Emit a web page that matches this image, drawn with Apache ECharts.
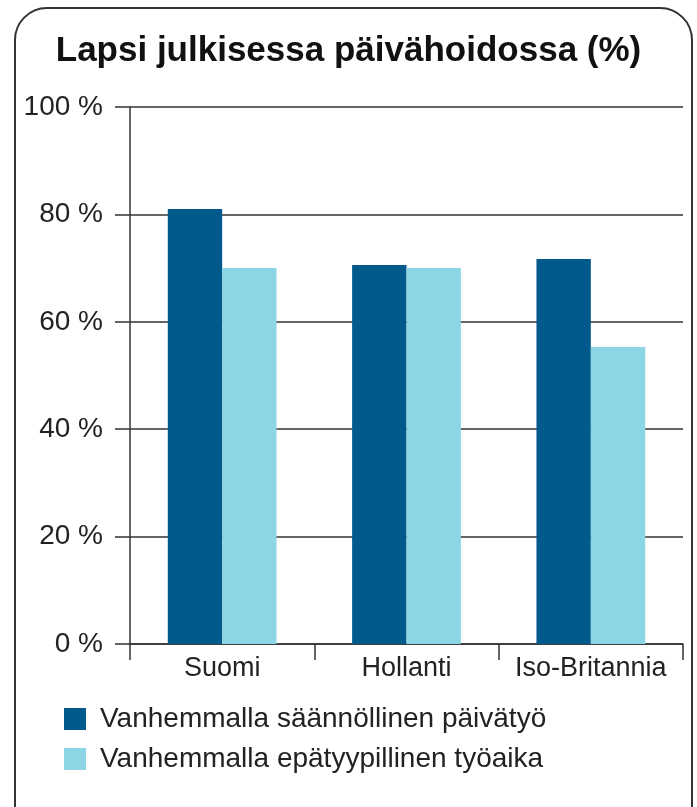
<!DOCTYPE html>
<html>
<head>
<meta charset="utf-8">
<script src="https://cdn.jsdelivr.net/npm/echarts@6/dist/echarts.min.js"></script>
<style>
  html, body { margin: 0; padding: 0; background: #fff; }
  #chart { width: 697px; height: 807px; }
</style>
</head>
<body>
<div id="chart"></div>
<script>
var chart = echarts.init(document.getElementById('chart'));

// data
var countries = ['Suomi', 'Hollanti', 'Iso-Britannia'];
var regularWork = [81, 70.6, 71.7];   // Vanhemmalla säännöllinen päivätyö
var irregularWork = [70, 70, 55.3];   // Vanhemmalla epätyypillinen työaika
var yTicks = [0, 20, 40, 60, 80, 100];

var darkBlue = '#02598b';
var lightBlue = '#8bd5e4';
var lineColor = '#333';
var font = '"Liberation Sans", Arial, sans-serif';

option = {
    animation: false,
    backgroundColor: '#fff',
    title: {
        text: 'Lapsi julkisessa päivähoidossa (%)',
        left: 'center',
        top: 29,
        textStyle: {
            fontFamily: font,
            fontSize: 35,
            fontWeight: 'bold',
            color: '#111'
        }
    },
    legend: {
        orient: 'vertical',
        left: 59,
        top: 700,
        itemWidth: 22,
        itemHeight: 22,
        itemGap: 12,
        icon: 'rect',
        selectedMode: false,
        textStyle: {
            fontFamily: font,
            fontSize: 28,
            color: '#222',
            padding: [0, 0, 0, 9]
        },
        data: ['Vanhemmalla säännöllinen päivätyö', 'Vanhemmalla epätyypillinen työaika']
    },
    grid: {
        left: 130,
        right: 14,
        top: 107,
        bottom: 163
    },
    xAxis: {
        type: 'category',
        data: countries,
        axisLine: {
            lineStyle: { color: lineColor, width: 1.5 }
        },
        axisTick: {
            show: true,
            interval: 0,
            length: 16,
            lineStyle: { color: lineColor, width: 1.5 }
        },
        axisLabel: {
            interval: 0,
            hideOverlap: false,
            margin: 11,
            fontFamily: font,
            fontSize: 27,
            color: '#222'
        }
    },
    yAxis: {
        type: 'value',
        min: yTicks[0],
        max: yTicks[yTicks.length - 1],
        interval: 20,
        axisLine: {
            show: true,
            lineStyle: { color: lineColor, width: 1.5 }
        },
        axisTick: {
            show: true,
            length: 15,
            lineStyle: { color: lineColor, width: 1.5 }
        },
        splitLine: {
            show: true,
            lineStyle: { color: lineColor, width: 1.5 }
        },
        axisLabel: {
            margin: 27,
            fontFamily: font,
            fontSize: 28,
            color: '#222',
            formatter: '{value} %'
        }
    },
    series: [
        {
            name: 'Vanhemmalla säännöllinen päivätyö',
            type: 'bar',
            barGap: 0,
            barCategoryGap: '41%',
            itemStyle: { color: darkBlue },
            data: regularWork
        },
        {
            name: 'Vanhemmalla epätyypillinen työaika',
            type: 'bar',
            barGap: 0,
            barCategoryGap: '41%',
            itemStyle: { color: lightBlue },
            data: irregularWork
        }
    ],
    graphic: [
        {
            // rounded frame round the whole chart
            type: 'rect',
            z: -1,
            shape: { x: 15, y: 8, width: 677, height: 830, r: 32 },
            style: { fill: 'none', stroke: '#333', lineWidth: 2 }
        }
    ]
};
chart.setOption(option);
</script>
</body>
</html>
